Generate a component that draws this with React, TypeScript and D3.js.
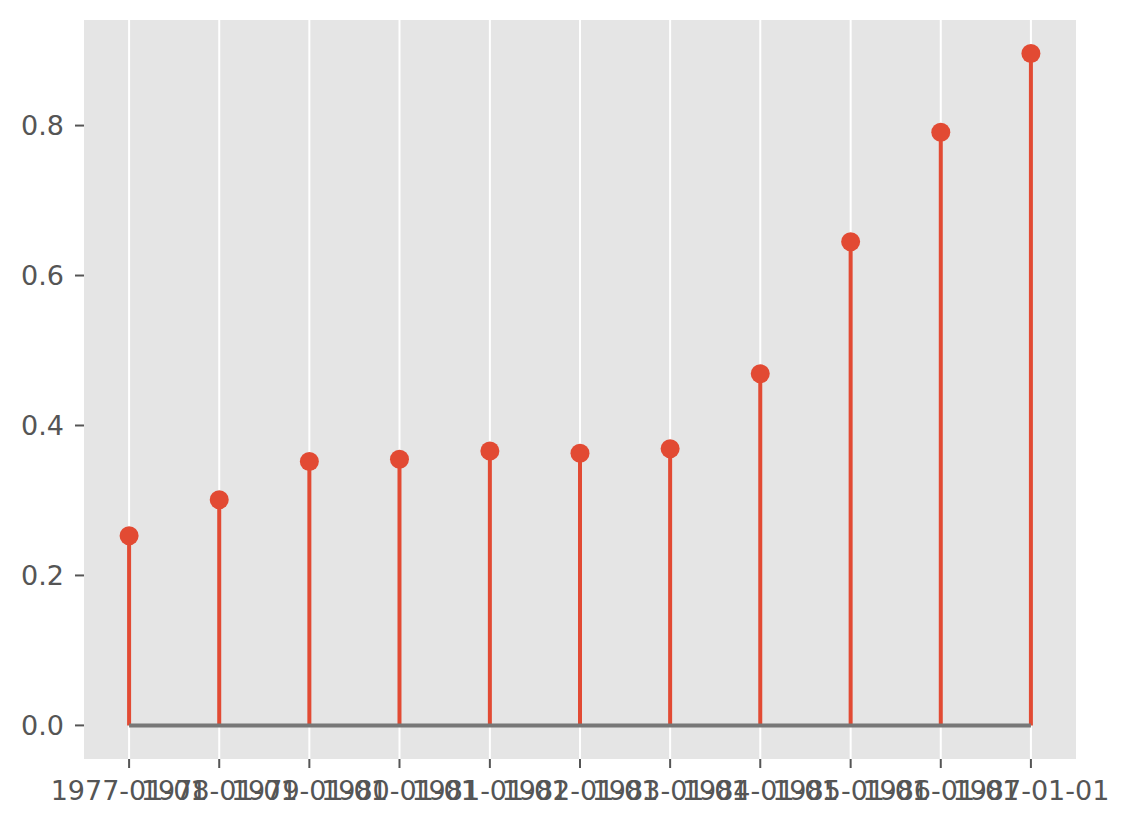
import * as React from "react";
import { scaleLinear, scaleUtc, timeFormat } from "d3";

// yearly values
const dates = ["1977-01-01", "1978-01-01", "1979-01-01", "1980-01-01", "1981-01-01", "1982-01-01",
  "1983-01-01", "1984-01-01", "1985-01-01", "1986-01-01", "1987-01-01"];
const values = [0.253, 0.301, 0.352, 0.355, 0.366, 0.363, 0.369, 0.469, 0.645, 0.791, 0.896];
const yTicks = [0.0, 0.2, 0.4, 0.6, 0.8];

const W = 1133;
const H = 826;
const M = { left: 84, right: 1076, top: 20, bottom: 759 };
const RED = "#E24A33";
const TXT = "#555555";

export default function App() {
  const parsed = dates.map((d) => new Date(d + "T00:00:00Z"));
  const t0 = parsed[0].getTime();
  const t1 = parsed[parsed.length - 1].getTime();
  const pad = (t1 - t0) * 0.05;

  const x = scaleUtc()
    .domain([new Date(t0 - pad), new Date(t1 + pad)])
    .range([M.left, M.right]);

  const yMax = 0.896;
  const yPad = yMax * 0.05;
  const y = scaleLinear()
    .domain([-yPad, yMax + yPad])
    .range([M.bottom, M.top]);

  const fmt = (d: Date) => d.toISOString().slice(0, 10);

  return (
    <svg width={W} height={H} style={{ position: "absolute", left: 0, top: 0, background: "white" }}
      fontFamily="DejaVu Sans" fontSize={27}>
      <rect x={M.left} y={M.top} width={M.right - M.left} height={M.bottom - M.top} fill="#E5E5E5" />
      {/* vertical grid */}
      {parsed.map((d, i) => (
        <line key={"g" + i} x1={x(d)} x2={x(d)} y1={M.top} y2={M.bottom} stroke="white" strokeWidth={2} />
      ))}
      {/* stems */}
      {parsed.map((d, i) => (
        <line key={"s" + i} x1={x(d)} x2={x(d)} y1={y(0)} y2={y(values[i])} stroke={RED} strokeWidth={4} />
      ))}
      {/* baseline */}
      <line x1={x(parsed[0])} x2={x(parsed[parsed.length - 1])} y1={y(0)} y2={y(0)} stroke="#777777" strokeWidth={4} />
      {/* markers */}
      {parsed.map((d, i) => (
        <circle key={"c" + i} cx={x(d)} cy={y(values[i])} r={9.5} fill={RED} />
      ))}
      {/* x axis */}
      {parsed.map((d, i) => (
        <g key={"xt" + i} transform={`translate(${x(d)},${M.bottom})`}>
          <line y1={0} y2={9} stroke={TXT} strokeWidth={2} />
          <text y={41} textAnchor="middle" fill={TXT}>{fmt(d)}</text>
        </g>
      ))}
      {/* y axis */}
      {yTicks.map((t) => (
        <g key={"yt" + t} transform={`translate(${M.left},${y(t)})`}>
          <line x1={-9} x2={0} stroke={TXT} strokeWidth={2} />
          <text x={-20} dy="0.36em" textAnchor="end" fill={TXT}>{t.toFixed(1)}</text>
        </g>
      ))}
    </svg>
  );
}
